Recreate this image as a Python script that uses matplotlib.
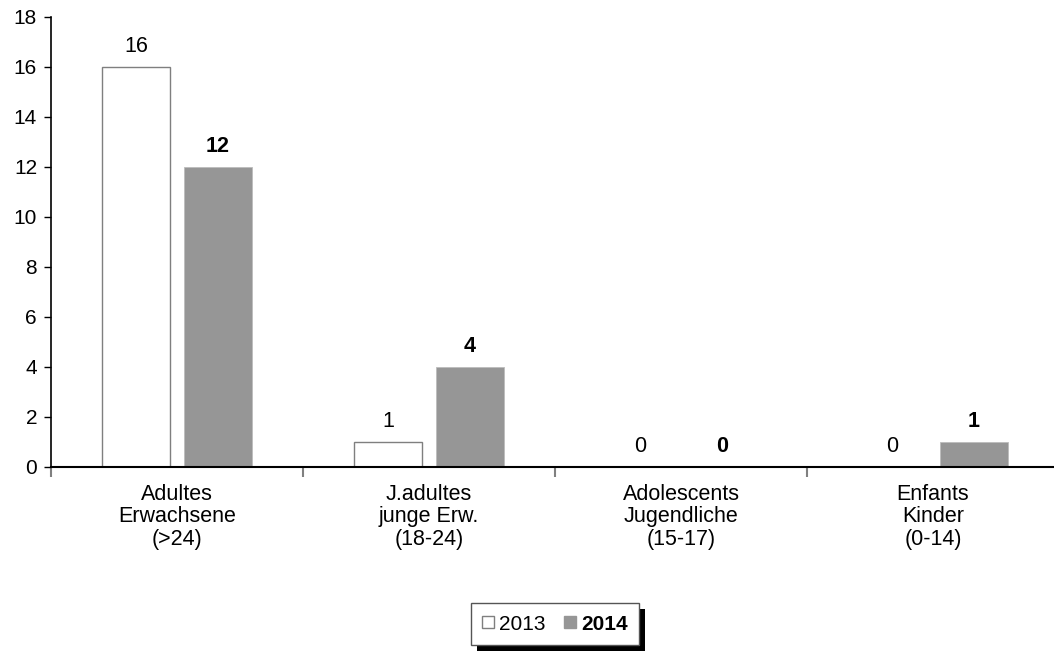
import matplotlib
matplotlib.use("Agg")
import matplotlib.pyplot as plt
import numpy as np
from matplotlib.patches import Patch, Rectangle

categories = ["Adultes\nErwachsene\n(>24)", "J.adultes\njunge Erw.\n(18-24)",
              "Adolescents\nJugendliche\n(15-17)", "Enfants\nKinder\n(0-14)"]
series_names = ["2013", "2014"]
values_2013 = [16, 1, 0, 0]
values_2014 = [12, 4, 0, 1]
yticks = [0, 2, 4, 6, 8, 10, 12, 14, 16, 18]

plt.rcParams['font.family'] = ['Liberation Sans', 'DejaVu Sans']
W, H = 1054, 652
fig = plt.figure(figsize=(W / 100, H / 100), dpi=100)
x0, x1 = 51, 1059
y0, y1 = 467, 17
ax = fig.add_axes([x0 / W, (H - y0) / H, (x1 - x0) / W, (y0 - y1) / H])

FS = 15.5
n = len(categories)
centers = np.arange(n) + 0.5
bw = 68 / 252
off = 0.163
edge = '#7f7f7f'
fill14 = '#969696'
b1 = ax.bar(centers - off, values_2013, bw, color='white', edgecolor=edge, linewidth=1.0)
b2 = ax.bar(centers + off, values_2014, bw, color=fill14, edgecolor='#bcbcbc', linewidth=0.6)

for r, v in zip(b1, values_2013):
    ax.annotate(str(v), (r.get_x() + r.get_width() / 2, v), xytext=(0, 15),
                textcoords='offset pixels', ha='center', va='baseline', fontsize=FS)
for r, v in zip(b2, values_2014):
    ax.annotate(str(v), (r.get_x() + r.get_width() / 2, v), xytext=(0, 15),
                textcoords='offset pixels', ha='center', va='baseline', fontsize=FS,
                fontweight='bold')

ax.set_xlim(0, n)
ax.set_ylim(0, 18)
ax.set_yticks(yticks)
ax.tick_params(axis='y', labelsize=15, length=5, width=1, direction='out', pad=5)
ax.set_xticks(np.arange(n + 1))
ax.set_xticklabels([])
ax.set_xticks(centers, minor=True)
ax.set_xticklabels(categories, minor=True, fontsize=FS, linespacing=1.1)
ax.tick_params(axis='x', which='major', length=7, color='#808080', width=1.5)
ax.tick_params(axis='x', which='minor', length=0, pad=12)

for s in ['top', 'right']:
    ax.spines[s].set_visible(False)
ax.spines['left'].set_linewidth(1.2)
ax.spines['bottom'].set_linewidth(1.5)

handles = [Patch(facecolor='white', edgecolor=edge, label='2013'),
           Patch(facecolor=fill14, edgecolor=fill14, label='2014')]
leg = fig.legend(handles=handles, loc='center', bbox_to_anchor=(555 / W, 1 - 624 / H),
                 ncol=2, fontsize=15, frameon=True, fancybox=False, shadow=False,
                 framealpha=1.0, facecolor='white',
                 handlelength=0.55, handleheight=0.55, handletextpad=0.25,
                 columnspacing=0.9, borderpad=0.55, edgecolor='#555555')
leg.get_frame().set_linewidth(1.0)
leg.get_texts()[1].set_fontweight('bold')
leg.set_zorder(5)

fig.canvas.draw()
bb = leg.get_frame().get_window_extent()
shadow = Rectangle((bb.x0 + 6, bb.y0 - 6), bb.width, bb.height, transform=None,
                   facecolor='black', edgecolor='none', zorder=4)
fig.add_artist(shadow)

fig.savefig('out.png', dpi=100)
